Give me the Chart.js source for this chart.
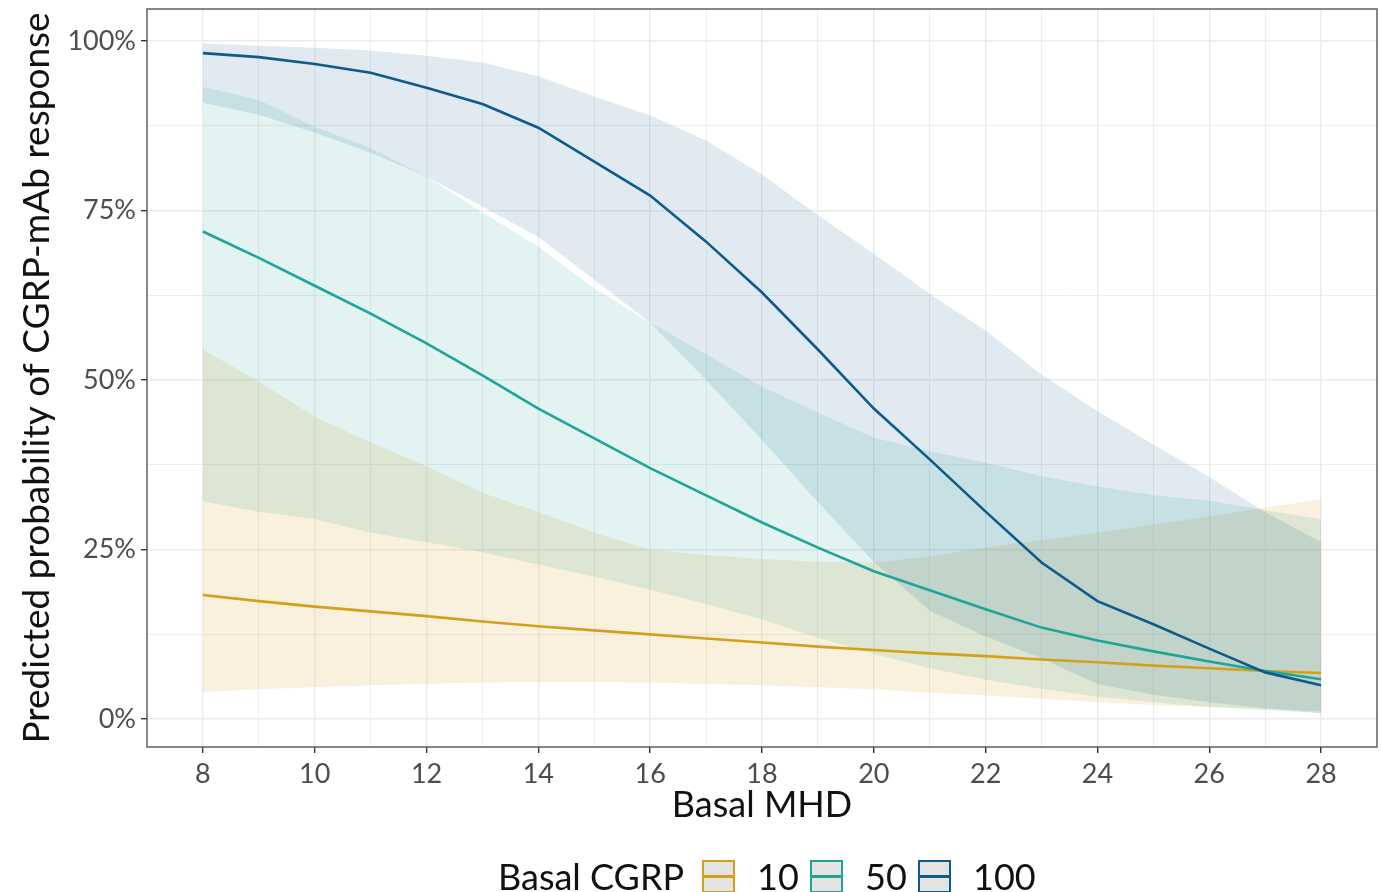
<!DOCTYPE html>
<html>
<head>
<meta charset="utf-8">
<script src="https://cdn.jsdelivr.net/npm/chart.js@4.4.1/dist/chart.umd.min.js"></script>
<style>
  html, body { margin: 0; padding: 0; background: #fff; }
  #wrap { position: relative; width: 1381px; height: 892px; overflow: hidden; }
  #legend { position: absolute; left: 498px; top: 856px; display: flex; align-items: center;
            font-family: Lato, sans-serif; font-size: 36px; color: #111; white-space: nowrap; line-height: 40px; }
  #legend .key { width: 33px; height: 33px; box-sizing: border-box; border: 2px solid; background: #e4e4e4;
                 position: relative; flex: none; }
  #legend .key span { position: absolute; left: 0; right: 0; top: 13px; height: 3px; }
  #legend .lab { margin-left: 22px; width: 53px; }
  #legend .title { margin-right: 18px; }
</style>
</head>
<body>
<div id="wrap">
  <canvas id="chart" width="1381" height="892"></canvas>
  <div id="legend"></div>
</div>
<script>
// Basal MHD values (x)
const mhd = [8, 9, 10, 11, 12, 13, 14, 15, 16, 17, 18, 19, 20, 21, 22, 23, 24, 25, 26, 27, 28];

// Basal CGRP = 10
const prob10 = [0.183, 0.174, 0.166, 0.159, 0.152, 0.144, 0.137, 0.131, 0.125, 0.119, 0.113, 0.107, 0.102, 0.097, 0.093, 0.088, 0.084, 0.079, 0.075, 0.071, 0.068];
const low10  = [0.040, 0.044, 0.047, 0.050, 0.052, 0.054, 0.055, 0.055, 0.054, 0.052, 0.050, 0.047, 0.044, 0.039, 0.035, 0.030, 0.025, 0.021, 0.018, 0.015, 0.012];
const high10 = [0.545, 0.498, 0.446, 0.408, 0.373, 0.334, 0.306, 0.275, 0.250, 0.242, 0.236, 0.232, 0.231, 0.240, 0.253, 0.264, 0.275, 0.287, 0.299, 0.312, 0.324];

// Basal CGRP = 50
const prob50 = [0.719, 0.680, 0.639, 0.598, 0.554, 0.507, 0.458, 0.414, 0.370, 0.330, 0.290, 0.253, 0.218, 0.190, 0.162, 0.135, 0.116, 0.100, 0.085, 0.071, 0.059];
const low50  = [0.321, 0.306, 0.295, 0.275, 0.261, 0.246, 0.228, 0.210, 0.191, 0.170, 0.147, 0.120, 0.096, 0.075, 0.058, 0.045, 0.033, 0.025, 0.018, 0.013, 0.009];
const high50 = [0.932, 0.913, 0.873, 0.842, 0.800, 0.747, 0.697, 0.635, 0.585, 0.538, 0.490, 0.452, 0.415, 0.395, 0.378, 0.358, 0.343, 0.330, 0.322, 0.308, 0.295];

// Basal CGRP = 100
const prob100 = [0.982, 0.976, 0.966, 0.953, 0.931, 0.907, 0.872, 0.822, 0.772, 0.704, 0.629, 0.545, 0.458, 0.383, 0.306, 0.231, 0.174, 0.140, 0.104, 0.069, 0.050];
const low100  = [0.909, 0.891, 0.865, 0.835, 0.800, 0.756, 0.711, 0.648, 0.585, 0.500, 0.412, 0.320, 0.232, 0.160, 0.122, 0.090, 0.052, 0.036, 0.025, 0.016, 0.009];
const high100 = [0.996, 0.993, 0.990, 0.986, 0.978, 0.968, 0.948, 0.918, 0.890, 0.853, 0.803, 0.743, 0.686, 0.627, 0.573, 0.508, 0.454, 0.405, 0.357, 0.305, 0.261];

const cgrpLevels = ['10', '50', '100'];
const xTicks = [8, 10, 12, 14, 16, 18, 20, 22, 24, 26, 28];
const xMinor = [9, 11, 13, 15, 17, 19, 21, 23, 25, 27];
const yTicks = [0, 0.25, 0.5, 0.75, 1];
const yMinor = [0.125, 0.375, 0.625, 0.875];

const lineColors = { '10': '#d4a01a', '50': '#1ea596', '100': '#0f5a8c' };
const fillColors = { '10': 'rgba(212,160,26,0.15)', '50': 'rgba(30,165,150,0.13)', '100': 'rgba(15,90,140,0.13)' };

const series = {
  '10':  { prob: prob10,  low: low10,  high: high10 },
  '50':  { prob: prob50,  low: low50,  high: high50 },
  '100': { prob: prob100, low: low100, high: high100 }
};

const pts = arr => mhd.map((x, i) => ({ x: x, y: arr[i] }));

// dataset 0 is drawn last, so put 100 first (top) and 10 last (bottom)
const order = ['100', '50', '10'];
const datasets = [];
order.forEach(k => {
  datasets.push({ label: k, data: pts(series[k].prob), borderColor: lineColors[k], borderWidth: 2.6,
                  pointRadius: 0, fill: false, tension: 0 });
});
order.forEach(k => {
  datasets.push({ label: k + ' upper', data: pts(series[k].high), borderWidth: 0, borderColor: 'rgba(0,0,0,0)',
                  backgroundColor: fillColors[k], pointRadius: 0, fill: '+1', tension: 0 });
  datasets.push({ label: k + ' lower', data: pts(series[k].low), borderWidth: 0, borderColor: 'rgba(0,0,0,0)',
                  pointRadius: 0, fill: false, tension: 0 });
});

const isMajorX = v => xTicks.includes(v);
const isMajorY = v => yTicks.some(t => Math.abs(t - v) < 1e-9);

// panel border on all four sides
const panelBorder = {
  id: 'panelBorder',
  afterDraw(chart) {
    const a = chart.chartArea, ctx = chart.ctx;
    ctx.save();
    ctx.strokeStyle = '#555';
    ctx.lineWidth = 1.4;
    ctx.strokeRect(a.left, a.top, a.right - a.left, a.bottom - a.top);
    ctx.restore();
  }
};

new Chart(document.getElementById('chart'), {
  type: 'line',
  data: { datasets },
  plugins: [panelBorder],
  options: {
    responsive: false,
    animation: false,
    layout: { padding: { left: 0, right: 4, top: 9, bottom: 65 } },
    plugins: {
      legend: { display: false },
      tooltip: { enabled: false },
      filler: { drawTime: 'beforeDatasetsDraw' }
    },
    scales: {
      x: {
        type: 'linear', min: 7, max: 29,
        afterBuildTicks: s => { s.ticks = xTicks.concat(xMinor).sort((a, b) => a - b).map(v => ({ value: v })); },
        afterFit: s => { s.height = 80; s.paddingLeft = 0; s.paddingRight = 0; },
        border: { display: false },
        grid: {
          color: '#ebebeb',
          lineWidth: c => (c.tick && isMajorX(c.tick.value)) ? 1.4 : 0.9,
          tickColor: c => (c.tick && isMajorX(c.tick.value)) ? '#333' : 'rgba(0,0,0,0)',
          tickLength: 6
        },
        ticks: {
          autoSkip: false, maxRotation: 0,
          callback: v => isMajorX(v) ? String(v) : '',
          font: { family: 'Lato', size: 27 }, color: '#4d4d4d', padding: 5
        },
        title: { display: true, text: 'Basal MHD', font: { family: 'Lato', size: 36 }, color: '#111',
                 padding: { top: 0, bottom: 0 } }
      },
      y: {
        type: 'linear', min: -0.041, max: 1.047,
        afterBuildTicks: s => { s.ticks = yTicks.concat(yMinor).sort((a, b) => a - b).map(v => ({ value: v })); },
        afterFit: s => { s.width = 147; s.paddingTop = 0; s.paddingBottom = 0; },
        border: { display: false },
        grid: {
          color: '#ebebeb',
          lineWidth: c => (c.tick && isMajorY(c.tick.value)) ? 1.4 : 0.9,
          tickColor: c => (c.tick && isMajorY(c.tick.value)) ? '#333' : 'rgba(0,0,0,0)',
          tickLength: 6
        },
        ticks: {
          autoSkip: false,
          callback: v => isMajorY(v) ? Math.round(v * 100) + '%' : '',
          font: { family: 'Lato', size: 27 }, color: '#4d4d4d', padding: 5
        },
        title: { display: true, text: 'Predicted probability of CGRP-mAb response',
                 font: { family: 'Lato', size: 37 }, color: '#111', padding: { top: 15, bottom: 0 } }
      }
    }
  }
});

// legend: "Basal CGRP" followed by the three keys
const legend = document.getElementById('legend');
const title = document.createElement('span');
title.className = 'title';
title.textContent = 'Basal CGRP';
legend.appendChild(title);
cgrpLevels.forEach(k => {
  const key = document.createElement('div');
  key.className = 'key';
  key.style.borderColor = lineColors[k];
  const bar = document.createElement('span');
  bar.style.background = lineColors[k];
  key.appendChild(bar);
  legend.appendChild(key);
  const lab = document.createElement('span');
  lab.className = 'lab';
  lab.textContent = k;
  legend.appendChild(lab);
});
</script>
</body>
</html>
